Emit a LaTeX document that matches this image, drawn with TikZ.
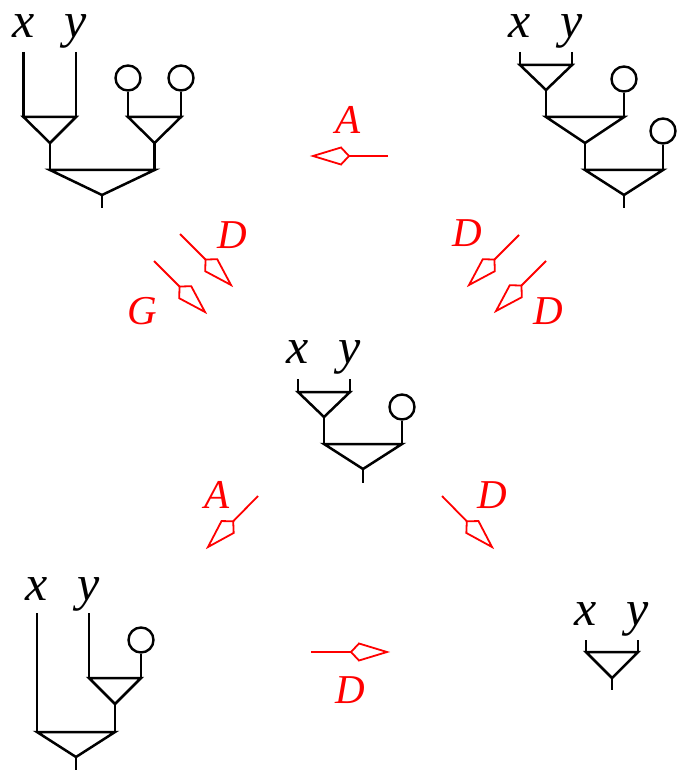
\documentclass[tikz,border=0pt]{standalone}
\usepackage{fontspec}
\setmainfont{Liberation Serif}
\usetikzlibrary{calc}

\tikzset{
  wire/.style={line width=2.5pt, black, line join=miter},
  unitdot/.style={circle, draw, line width=2.4pt, minimum size=25pt, inner sep=0pt},
  var/.style={anchor=base, inner sep=0pt, font=\fontsize{50}{60}\selectfont\itshape},
  rewrite/.style={red, line width=1.8pt, line join=miter},
  rlab/.style={red, inner sep=0pt, font=\fontsize{41}{50}\selectfont\itshape},
}

% a rewrite step: a red shaft ending in an open kite whose tip is at #2
\newcommand\rewritestep[2]{%
  \draw[rewrite] (#1) -- ($(#2)!36pt!(#1)$);
  \draw[rewrite] ($(#2)!36pt!(#1)$)
    -- ($(#2)!28pt!(#1)!8.5pt!90:(#2)$)
    -- (#2)
    -- ($(#2)!28pt!(#1)!8.5pt!-90:(#2)$)
    -- cycle;
}

\begin{document}
\begin{tikzpicture}[x=1pt, y=-1pt]
\useasboundingbox (0,0) rectangle (677,770);

% ---------- (x*y)*(1*1) ----------
\node[var] (a-x) at (23.5,38) {x};
\node[var] (a-y) at (76,38) {y};
\coordinate (a-xt) at (23.5,52);
\coordinate (a-yt) at (76,52);
\coordinate (a-t1l) at (23.5,117);
\coordinate (a-t1r) at (76,117);
\coordinate (a-t1b) at (50,143);
\node[unitdot] (a-u1) at (128,78) {};
\node[unitdot] (a-u2) at (181,78) {};
\coordinate (a-t2l) at (128,117);
\coordinate (a-t2r) at (181,117);
\coordinate (a-t2b) at (154.5,143);
\coordinate (a-t3l) at (50,170);
\coordinate (a-t3r) at (154.5,170);
\coordinate (a-t3b) at (102,195);
\coordinate (a-out) at (102,208);
\draw[wire] (a-xt) -- (a-t1l);
\draw[wire] (a-yt) -- (a-t1r);
\draw[wire] (a-t1l) -- (a-t1r) -- (a-t1b) -- cycle;
\draw[wire] (a-u1) -- (a-t2l);
\draw[wire] (a-u2) -- (a-t2r);
\draw[wire] (a-t2l) -- (a-t2r) -- (a-t2b) -- cycle;
\draw[wire] (a-t1b) -- (a-t3l);
\draw[wire] (a-t2b) -- (a-t3r);
\draw[wire] (a-t3l) -- (a-t3r) -- (a-t3b) -- cycle;
\draw[wire] (a-t3b) -- (a-out);

% ---------- ((x*y)*1)*1 ----------
\node[var] (b-x) at (520,38) {x};
\node[var] (b-y) at (572,38) {y};
\coordinate (b-xt) at (520,52);
\coordinate (b-yt) at (572,52);
\coordinate (b-t1l) at (520,65);
\coordinate (b-t1r) at (572,65);
\coordinate (b-t1b) at (546,90);
\node[unitdot] (b-u1) at (624,79) {};
\coordinate (b-t2l) at (546,117);
\coordinate (b-t2r) at (624,117);
\coordinate (b-t2b) at (585,143);
\node[unitdot] (b-u2) at (663,131) {};
\coordinate (b-t3l) at (585,170);
\coordinate (b-t3r) at (663,170);
\coordinate (b-t3b) at (624,195);
\coordinate (b-out) at (624,208);
\draw[wire] (b-xt) -- (b-t1l);
\draw[wire] (b-yt) -- (b-t1r);
\draw[wire] (b-t1l) -- (b-t1r) -- (b-t1b) -- cycle;
\draw[wire] (b-t1b) -- (b-t2l);
\draw[wire] (b-u1) -- (b-t2r);
\draw[wire] (b-t2l) -- (b-t2r) -- (b-t2b) -- cycle;
\draw[wire] (b-t2b) -- (b-t3l);
\draw[wire] (b-u2) -- (b-t3r);
\draw[wire] (b-t3l) -- (b-t3r) -- (b-t3b) -- cycle;
\draw[wire] (b-t3b) -- (b-out);

% ---------- (x*y)*1 ----------
\node[var] (c-x) at (298,363) {x};
\node[var] (c-y) at (350,363) {y};
\coordinate (c-xt) at (298,379);
\coordinate (c-yt) at (350,379);
\coordinate (c-t1l) at (298,392);
\coordinate (c-t1r) at (350,392);
\coordinate (c-t1b) at (324,417);
\node[unitdot] (c-u) at (402,407) {};
\coordinate (c-t2l) at (324,444);
\coordinate (c-t2r) at (402,444);
\coordinate (c-t2b) at (363,469);
\coordinate (c-out) at (363,483);
\draw[wire] (c-xt) -- (c-t1l);
\draw[wire] (c-yt) -- (c-t1r);
\draw[wire] (c-t1l) -- (c-t1r) -- (c-t1b) -- cycle;
\draw[wire] (c-t1b) -- (c-t2l);
\draw[wire] (c-u) -- (c-t2r);
\draw[wire] (c-t2l) -- (c-t2r) -- (c-t2b) -- cycle;
\draw[wire] (c-t2b) -- (c-out);

% ---------- x*(y*1) ----------
\node[var] (d-x) at (37,600) {x};
\node[var] (d-y) at (89,600) {y};
\coordinate (d-xt) at (37,613);
\coordinate (d-yt) at (89,613);
\node[unitdot] (d-u) at (141,640) {};
\coordinate (d-t1l) at (89,678);
\coordinate (d-t1r) at (141,678);
\coordinate (d-t1b) at (115,704);
\coordinate (d-t2l) at (37,732);
\coordinate (d-t2r) at (115,732);
\coordinate (d-t2b) at (76,757);
\coordinate (d-out) at (76,770);
\draw[wire] (d-xt) -- (d-t2l);
\draw[wire] (d-yt) -- (d-t1l);
\draw[wire] (d-u) -- (d-t1r);
\draw[wire] (d-t1l) -- (d-t1r) -- (d-t1b) -- cycle;
\draw[wire] (d-t1b) -- (d-t2r);
\draw[wire] (d-t2l) -- (d-t2r) -- (d-t2b) -- cycle;
\draw[wire] (d-t2b) -- (d-out);

% ---------- x*y ----------
\node[var] (e-x) at (586,625) {x};
\node[var] (e-y) at (638,625) {y};
\coordinate (e-xt) at (586,640);
\coordinate (e-yt) at (638,640);
\coordinate (e-tl) at (586,652);
\coordinate (e-tr) at (638,652);
\coordinate (e-tb) at (612,678);
\coordinate (e-out) at (612,690);
\draw[wire] (e-xt) -- (e-tl);
\draw[wire] (e-yt) -- (e-tr);
\draw[wire] (e-tl) -- (e-tr) -- (e-tb) -- cycle;
\draw[wire] (e-tb) -- (e-out);

% ---------- rewrite steps ----------
\coordinate (r1s) at (388,156);   \coordinate (r1e) at (313,156);
\coordinate (r2s) at (180,234);   \coordinate (r2e) at (231,285);
\coordinate (r3s) at (154,261);   \coordinate (r3e) at (205,312);
\coordinate (r4s) at (519,235);   \coordinate (r4e) at (469,285);
\coordinate (r5s) at (546,261);   \coordinate (r5e) at (496,311);
\coordinate (r6s) at (258,496);   \coordinate (r6e) at (208,547);
\coordinate (r7s) at (442,496);   \coordinate (r7e) at (492,547);
\coordinate (r8s) at (311,652);   \coordinate (r8e) at (387,652);
\rewritestep{r1s}{r1e}
\rewritestep{r2s}{r2e}
\rewritestep{r3s}{r3e}
\rewritestep{r4s}{r4e}
\rewritestep{r5s}{r5e}
\rewritestep{r6s}{r6e}
\rewritestep{r7s}{r7e}
\rewritestep{r8s}{r8e}

\node[rlab] (l1) at (348,120) {A};
\node[rlab] (l2) at (232,235) {D};
\node[rlab] (l3) at (142,311) {G};
\node[rlab] (l4) at (467,233) {D};
\node[rlab] (l5) at (548,311) {D};
\node[rlab] (l6) at (217,495) {A};
\node[rlab] (l7) at (492,495) {D};
\node[rlab] (l8) at (350,690) {D};
\end{tikzpicture}
\end{document}
